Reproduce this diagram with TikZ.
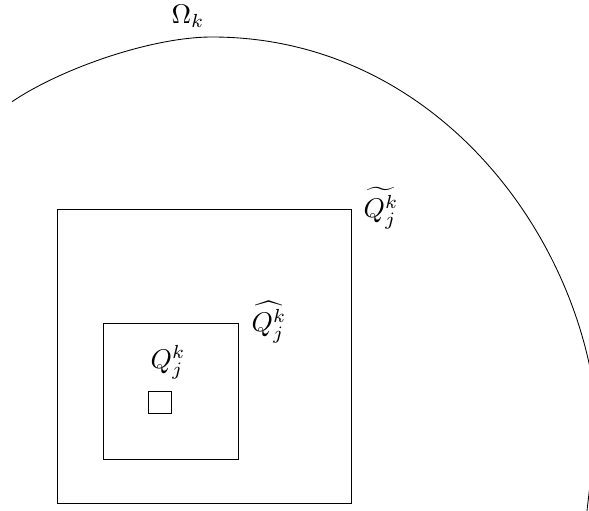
\documentclass[tikz,border=0pt]{standalone}
\begin{document}
\begin{tikzpicture}[x=0.37pt,y=-0.37pt,
  sq/.style={draw,line width=0.32pt},
  lbl/.style={inner sep=0pt}]
\useasboundingbox (0,0) rectangle (589,510);
\begin{scope}
\clip (0,0) rectangle (589,510);
\coordinate (a) at (12,101.7);
\coordinate (t) at (212,37);
\coordinate (f) at (589,363);
\coordinate (g) at (586.5,515);
\draw[line width=0.32pt] (a) .. controls (61.7,68.2) and (152,37) .. (t)
  .. controls (412,37) and (552.3,197.1) .. (f)
  .. controls (600.9,416.7) and (592.5,460) .. (g);
\end{scope}
\draw[sq] (57,209) rectangle (351,503);
\draw[sq] (103,323) rectangle (238,459);
\draw[sq] (148.5,391) rectangle (171,413);
\node[lbl] (om) at (188,16) {$\Omega_k$};
\node[lbl] (qt) at (381,208) {$\widetilde{Q_j^k}$};
\node[lbl] (qh) at (269,322) {$\widehat{Q_j^k}$};
\node[lbl] (q) at (168,362) {$Q_j^k$};
\end{tikzpicture}
\end{document}
